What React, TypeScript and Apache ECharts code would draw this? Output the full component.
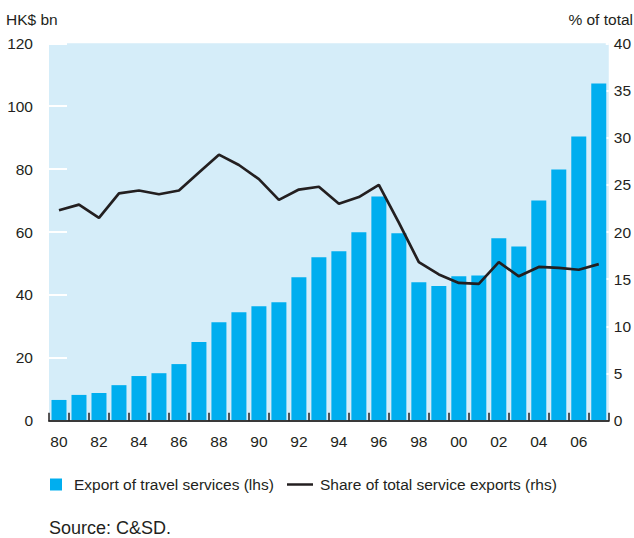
import React, { useEffect, useRef } from "react";
import * as echarts from "echarts";

const years = [
  "80", "81", "82", "83", "84", "85", "86", "87", "88", "89",
  "90", "91", "92", "93", "94", "95", "96", "97", "98", "99",
  "00", "01", "02", "03", "04", "05", "06", "07",
];

// Export of travel services, HK$ bn (lhs)
const travelExports = [
  6.6, 8.2, 8.8, 11.3, 14.2, 15.1, 18.0, 25.0, 31.3, 34.5,
  36.4, 37.7, 45.6, 52.0, 53.9, 59.9, 71.3, 59.6, 44.0, 42.8,
  45.9, 46.2, 58.0, 55.4, 70.0, 79.9, 90.4, 107.2,
];

// Share of total service exports, % (rhs)
const shareOfTotal = [
  22.3, 22.9, 21.5, 24.1, 24.4, 24.0, 24.4, 26.3, 28.2, 27.1,
  25.6, 23.4, 24.5, 24.8, 23.0, 23.7, 25.0, 21.0, 16.8, 15.5,
  14.6, 14.5, 16.8, 15.3, 16.3, 16.2, 16.0, 16.6,
];

const leftTicks = { min: 0, max: 120, interval: 20 };
const rightTicks = { min: 0, max: 40, interval: 5 };

const FONT = "'Liberation Sans', Arial, Helvetica, sans-serif";
const TEXT = "#231f20";
const FS = 15.5;

export default function App() {
  const ref = useRef<HTMLDivElement>(null);

  useEffect(() => {
    document.body.style.margin = "0";
    if (!ref.current) return;
    const chart = echarts.init(ref.current, null, { renderer: "svg" });
    chart.setOption({
      animation: false,
      backgroundColor: "#ffffff",
      textStyle: { fontFamily: FONT },
      grid: {
        left: 49,
        right: 24,
        top: 43.3,
        bottom: 117.3,
        show: true,
        backgroundColor: "#d5edf9",
        borderWidth: 0,
      },
      legend: [
        {
          data: [{ name: "Export of travel services (lhs)", icon: "rect" }],
          left: 50,
          top: 476.5,
          padding: 0,
          itemWidth: 12,
          itemHeight: 12,
          textStyle: { fontSize: FS, color: TEXT, fontFamily: FONT, padding: [0, 0, 0, 7] },
        },
        {
          data: [{ name: "Share of total service exports (rhs)", icon: "rect" }],
          left: 287,
          top: 476.5,
          padding: 0,
          itemWidth: 26,
          itemHeight: 2.5,
          textStyle: { fontSize: FS, color: TEXT, fontFamily: FONT, padding: [0, 0, 0, 2] },
        },
      ],
      xAxis: {
        type: "category",
        data: years,
        boundaryGap: true,
        z: 5,
        axisLine: { show: true, lineStyle: { color: "#3a3a3a", width: 2 } },
        axisTick: {
          show: true,
          inside: true,
          length: 8,
          interval: 0,
          lineStyle: { color: TEXT, width: 1.5 },
        },
        axisLabel: {
          interval: 1,
          fontSize: FS,
          color: TEXT,
          margin: 13,
          fontFamily: FONT,
        },
        splitLine: { show: false },
      },
      yAxis: [
        {
          type: "value",
          min: leftTicks.min,
          max: leftTicks.max,
          interval: leftTicks.interval,
          position: "left",
          axisLine: { show: false },
          axisTick: {
            show: true,
            inside: true,
            length: 18,
            lineStyle: { color: "#ffffff", width: 2 },
          },
          axisLabel: { fontSize: FS, color: TEXT, margin: 16, fontFamily: FONT },
          splitLine: { show: false },
        },
        {
          type: "value",
          min: rightTicks.min,
          max: rightTicks.max,
          interval: rightTicks.interval,
          position: "right",
          axisLine: { show: false },
          axisTick: {
            show: true,
            inside: true,
            length: 3,
            lineStyle: { color: "#ffffff", width: 2 },
          },
          axisLabel: { fontSize: FS, color: TEXT, margin: 5, fontFamily: FONT },
          splitLine: { show: false },
        },
      ],
      series: [
        {
          name: "Export of travel services (lhs)",
          type: "bar",
          data: travelExports,
          yAxisIndex: 0,
          barWidth: "75%",
          itemStyle: { color: "#00aeef" },
          z: 2,
        },
        {
          name: "Share of total service exports (rhs)",
          type: "line",
          data: shareOfTotal,
          yAxisIndex: 1,
          symbol: "none",
          itemStyle: { color: TEXT },
          lineStyle: { color: TEXT, width: 2.7 },
          z: 3,
        },
      ],
      graphic: [
        {
          type: "text",
          left: 6,
          top: 11,
          style: { text: "HK$ bn", fontSize: FS, fill: TEXT, fontFamily: FONT },
        },
        {
          type: "text",
          right: 1,
          top: 11,
          style: { text: "% of total", fontSize: FS, fill: TEXT, fontFamily: FONT },
        },
        {
          type: "text",
          left: 49,
          top: 519,
          style: { text: "Source: C&SD.", fontSize: 18, fill: TEXT, fontFamily: FONT },
        },
      ],
    });
    return () => chart.dispose();
  }, []);

  return (
    <div
      ref={ref}
      style={{ position: "absolute", left: 0, top: 0, width: 634, height: 538 }}
    />
  );
}
